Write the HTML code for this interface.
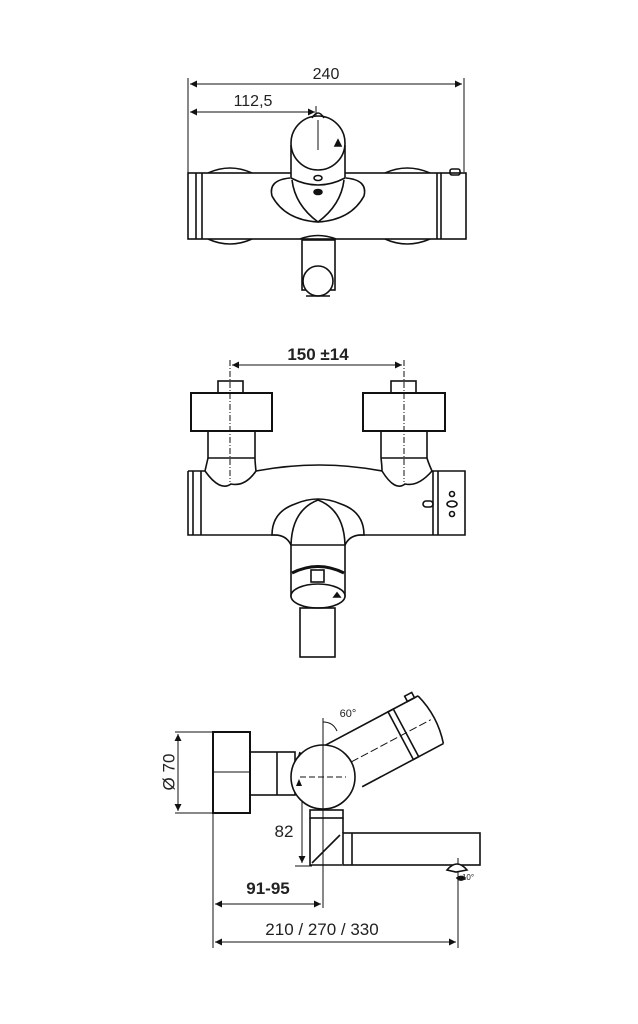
<!DOCTYPE html>
<html><head><meta charset="utf-8"><style>
html,body{margin:0;padding:0;background:#fff;}
svg{display:block;}
text{font-family:"Liberation Sans",sans-serif;fill:#222;}
</style></head><body>
<svg width="638" height="1024" viewBox="0 0 638 1024" xmlns="http://www.w3.org/2000/svg">
<defs>
<marker id="a" viewBox="0 0 10 10" refX="10" refY="5" markerWidth="9" markerHeight="7" orient="auto-start-reverse" markerUnits="userSpaceOnUse"><path d="M0,0 L10,5 L0,10 z" fill="#111"/></marker>
</defs>
<g fill="none" stroke="#111" stroke-width="1.6">
<!-- ===== TOP VIEW ===== -->
<g stroke-width="1">
<line x1="188" y1="78" x2="188" y2="173"/>
<line x1="464" y1="78" x2="464" y2="172"/>
<line x1="316" y1="106" x2="316" y2="122"/>
<line x1="190" y1="84" x2="462" y2="84" marker-start="url(#a)" marker-end="url(#a)"/>
<line x1="190" y1="112" x2="315" y2="112" marker-start="url(#a)" marker-end="url(#a)"/>
</g>
<path d="M208,173 Q230,163 252,173"/><path d="M208,239 Q230,249 252,239"/>
<path d="M385,173 Q407,163 430,173"/><path d="M385,239 Q407,249 430,239"/>
<rect x="188" y="173" width="278" height="66" fill="#fff"/>
<line x1="196" y1="173" x2="196" y2="239"/><line x1="202" y1="173" x2="202" y2="239"/>
<line x1="437" y1="173" x2="437" y2="239"/><line x1="441" y1="173" x2="441" y2="239"/>
<rect x="450" y="169" width="10" height="6" rx="2"/>
<path d="M290,178 Q268,180 272,196 Q285,220 318,222 Q351,220 364,196 Q368,180 346,178" fill="#fff"/>
<path d="M292,180 Q295,205 318,222 Q341,205 344,180"/>
<path d="M291,145 L291,178 Q318,192 345,178 L345,145" fill="#fff"/>
<circle cx="318" cy="143" r="27" fill="#fff"/>
<path d="M312,118 Q318,108 324,118"/>
<line x1="318" y1="120" x2="318" y2="150" stroke-width="1"/>
<path d="M335,146 l3,-6 l3,6z" fill="#111"/>
<ellipse cx="318" cy="178" rx="4" ry="2.5"/>
<ellipse cx="318" cy="192" rx="4" ry="2.5" fill="#111"/>
<path d="M300,239 Q318,232 336,239"/>
<rect x="302" y="240" width="33" height="50" fill="#fff"/>
<circle cx="318" cy="281" r="15" fill="#fff"/>
<path d="M306,296 L330,296"/>

<!-- ===== FRONT VIEW ===== -->
<g stroke-width="1">
<line x1="230" y1="360" x2="230" y2="482" stroke-dasharray="6,2,1,2"/>
<line x1="404" y1="360" x2="404" y2="482" stroke-dasharray="6,2,1,2"/>
<line x1="232" y1="365" x2="402" y2="365" marker-start="url(#a)" marker-end="url(#a)"/>
</g>
<rect x="218" y="381" width="25" height="12"/>
<rect x="191" y="393" width="81" height="38" stroke-width="2"/>
<rect x="391" y="381" width="25" height="12"/>
<rect x="363" y="393" width="82" height="38" stroke-width="2"/>
<path d="M208,431 L208,458 M255,431 L255,458 M208,458 L255,458"/>
<path d="M381,431 L381,458 M427,431 L427,458 M381,458 L427,458"/>
<path d="M188,471 L188,535 L465,535 L465,471 L432,471"/>
<path d="M188,471 L205,471"/>
<path d="M256,471 Q320,459 382,471"/>
<path d="M208,458 Q205,471 205,471 Q220,492 231,484 Q245,487 256,471 Q255,462 255,458"/>
<path d="M381,458 Q382,466 382,471 Q395,492 405,484 Q418,487 432,471 Q428,462 427,458"/>
<line x1="193" y1="471" x2="193" y2="535"/><line x1="201" y1="471" x2="201" y2="535"/>
<line x1="433" y1="471" x2="433" y2="535"/><line x1="438" y1="471" x2="438" y2="535"/>
<rect x="423" y="501" width="10" height="6" rx="3"/>
<circle cx="452" cy="494" r="2.5"/><ellipse cx="452" cy="504" rx="5" ry="3"/><circle cx="452" cy="514" r="2.5"/>
<path d="M272,535 Q272,512 295,504 Q318,494 341,504 Q364,512 364,535 Q350,534 345,545 L291,545 Q286,534 272,535Z" fill="#fff"/>
<path d="M291,545 Q292,510 318,500 Q344,510 345,545"/>
<path d="M291,545 L291,597 M345,545 L345,597"/>
<path d="M292,573 Q318,560 344,573" stroke-width="3"/>
<rect x="311" y="570" width="13" height="12"/>
<ellipse cx="318" cy="596" rx="27" ry="12" fill="#fff"/>
<path d="M334,597 l3,-4 l3,4z" fill="#111"/>
<rect x="300" y="608" width="35" height="49"/>

<!-- ===== SIDE VIEW ===== -->
<g stroke-width="1">
<line x1="175" y1="732" x2="213" y2="732"/><line x1="175" y1="813" x2="213" y2="813"/>
<line x1="178" y1="734" x2="178" y2="811" marker-start="url(#a)" marker-end="url(#a)"/>
<line x1="213" y1="813" x2="213" y2="948"/>
<line x1="323" y1="718" x2="323" y2="908"/>
<line x1="458" y1="858" x2="458" y2="948"/>
<line x1="215" y1="904" x2="321" y2="904" marker-start="url(#a)" marker-end="url(#a)"/>
<line x1="215" y1="942" x2="456" y2="942" marker-start="url(#a)" marker-end="url(#a)"/>
<line x1="302" y1="778" x2="302" y2="863" marker-start="url(#a)" marker-end="url(#a)"/>
<line x1="295" y1="866" x2="312" y2="866"/>
<line x1="213" y1="772" x2="250" y2="772"/>
<path d="M323,722 Q333,722 337,731"/>
</g>
<rect x="213" y="732" width="37" height="81" stroke-width="2"/>
<rect x="250" y="752" width="45" height="43"/>
<line x1="277" y1="752" x2="277" y2="795"/>
<g transform="translate(323,777) rotate(-28)">
<path d="M0,-27 L122,-27 M30,27 L122,27" fill="none"/>
<rect x="88" y="-27" width="6" height="54"/>
<path d="M122,-27 Q130,0 122,27"/>
<rect x="110" y="-33" width="8" height="6"/>
<line x1="-12" y1="0" x2="122" y2="0" stroke-width="1" stroke-dasharray="8,3"/>
</g>
<path d="M300,752 Q290,785 310,800 Q330,805 345,795" fill="none"/>
<circle cx="323" cy="777" r="32" fill="#fff"/>
<line x1="300" y1="777" x2="346" y2="777" stroke-width="1" stroke-dasharray="6,3"/>
<line x1="323" y1="740" x2="323" y2="815" stroke-width="1"/>
<path d="M296,786 l3,-7 l3,7z" fill="#111" stroke="none"/>
<rect x="310" y="810" width="33" height="8"/>
<path d="M310,818 L310,865 L342,865 M343,818 L343,833"/>
<line x1="312" y1="863" x2="340" y2="835"/>
<rect x="343" y="833" width="137" height="32"/>
<line x1="352" y1="833" x2="352" y2="865"/>
<path d="M447,870 Q457,858 467,870 L456,872 Z" fill="#fff"/>
<path d="M457,878 q4,-3 8,0 q-4,4 -8,0z" fill="#111"/>
</g>
<text x="326" y="79" font-size="16" text-anchor="middle">240</text>
<text x="253" y="106" font-size="16" text-anchor="middle">112,5</text>
<text x="318" y="360" font-size="17" font-weight="bold" text-anchor="middle">150 ±14</text>
<text x="348" y="717" font-size="11" text-anchor="middle">60°</text>
<text x="170" y="772" font-size="17" text-anchor="middle" transform="rotate(-90 170 772)" dominant-baseline="middle">Ø 70</text>
<text x="284" y="837" font-size="17" text-anchor="middle">82</text>
<text x="268" y="894" font-size="17" font-weight="bold" text-anchor="middle">91-95</text>
<text x="322" y="935" font-size="17" text-anchor="middle">210 / 270 / 330</text>
<text x="468" y="880" font-size="8" text-anchor="middle">10°</text>
</svg>
</body></html>
